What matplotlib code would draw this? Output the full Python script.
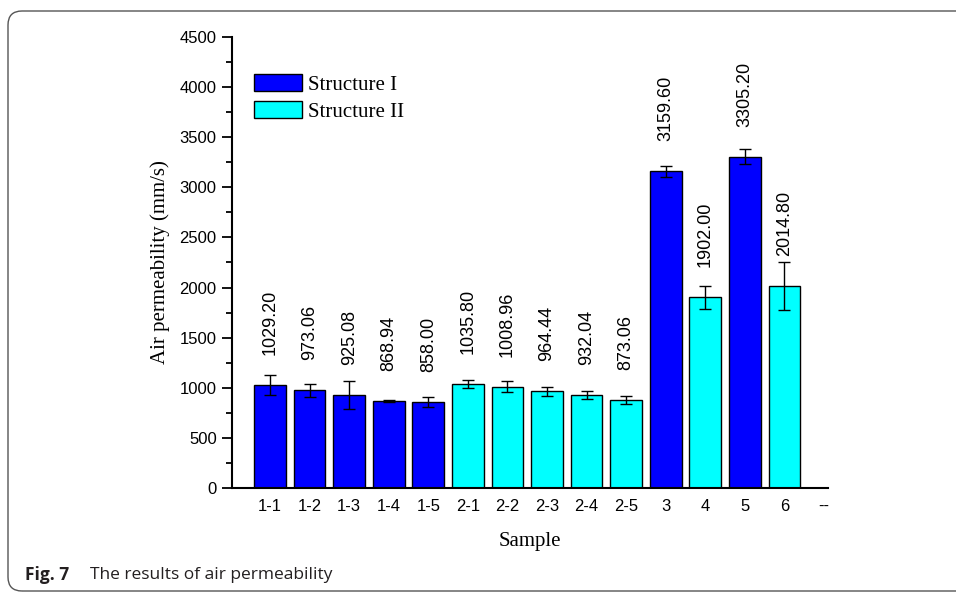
import matplotlib
matplotlib.use("Agg")
import matplotlib.pyplot as plt
from matplotlib.patches import Patch, FancyBboxPatch
from matplotlib.transforms import IdentityTransform
from matplotlib.ticker import MultipleLocator

# sample names on the x axis (the last slot is left empty)
samples = ['1-1', '1-2', '1-3', '1-4', '1-5', '2-1', '2-2', '2-3', '2-4', '2-5', '3', '4', '5', '6']
tick_names = samples + ['--']
perm = [1029.20, 973.06, 925.08, 868.94, 858.00, 1035.80, 1008.96, 964.44, 932.04, 873.06,
        3159.60, 1902.00, 3305.20, 2014.80]
perm_err = [97, 66, 140, 12, 45, 38, 55, 48, 40, 40, 53, 118, 76, 237]
structure = ['I', 'I', 'I', 'I', 'I', 'II', 'II', 'II', 'II', 'II', 'I', 'II', 'I', 'II']

col = {'I': '#0000FF', 'II': '#00FFFF'}

fig = plt.figure(figsize=(9.56, 5.92), dpi=100)
ax = fig.add_axes([0.2427, 0.1757, 0.6234, 0.7618])

xs = list(range(len(samples)))
ax.bar(xs, perm, width=0.8, color=[col[s] for s in structure], edgecolor='black', linewidth=1.0,
       yerr=perm_err, error_kw=dict(ecolor='black', elinewidth=1.0, capsize=4, capthick=1.0))

for x, v in zip(xs, perm):
    ax.text(x, v + 300, '%.2f' % v, rotation=90, ha='center', va='bottom',
            fontsize=13, family='Liberation Sans')

ax.set_xlim(-0.96, 14.1)
ax.set_ylim(0, 4500)
ax.set_xticks(range(len(tick_names)))
ax.set_xticklabels(tick_names, family='Liberation Sans', fontsize=12)
ax.yaxis.set_major_locator(MultipleLocator(500))
ax.yaxis.set_minor_locator(MultipleLocator(250))
for lab in ax.get_yticklabels():
    lab.set_family('Liberation Sans')
    lab.set_fontsize(12)
ax.tick_params(axis='x', length=0, pad=8)
ax.tick_params(axis='y', which='major', direction='out', length=7, width=1.3, pad=4)
ax.tick_params(axis='y', which='minor', direction='out', length=4, width=1.3)

for side in ['top', 'right']:
    ax.spines[side].set_visible(False)
for side in ['left', 'bottom']:
    ax.spines[side].set_linewidth(1.5)

ax.set_ylabel('Air permeability (mm/s)', family='Liberation Serif', fontsize=15, labelpad=7)
ax.set_xlabel('Sample', family='Liberation Serif', fontsize=15, labelpad=13)

handles = [Patch(facecolor=col['I'], edgecolor='black', label='Structure I'),
           Patch(facecolor=col['II'], edgecolor='black', label='Structure II')]
ax.legend(handles=handles, loc='upper left', bbox_to_anchor=(0.037, 0.918), frameon=False,
          prop=dict(family='Liberation Serif', size=15), handlelength=2.3, handleheight=0.9,
          handletextpad=0.3, labelspacing=0.3, borderpad=0, borderaxespad=0)

# rounded frame around the figure and the caption
frame = FancyBboxPatch((8, 1), 1000, 580, boxstyle='round,pad=0,rounding_size=14',
                       transform=IdentityTransform(), facecolor='none', edgecolor='#555555', linewidth=1.0)
fig.patches.append(frame)
fig.text(25 / 956, 1 - 575 / 592, 'Fig. 7', fontweight='bold', fontsize=12.5, family='Open Sans',
         color='#231f20', va='center')
fig.text(90 / 956, 1 - 575 / 592, 'The results of air permeability', fontsize=12.5, family='Open Sans',
         color='#231f20', va='center')

fig.savefig('out.png', dpi=100)
